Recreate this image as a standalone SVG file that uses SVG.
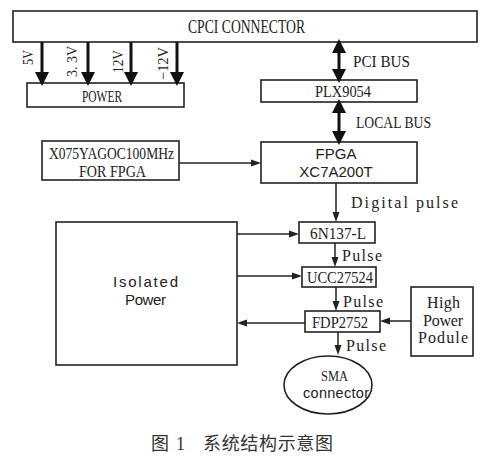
<svg xmlns="http://www.w3.org/2000/svg" width="488" height="458" viewBox="0 0 488 458">
<style>
.box{fill:#fff;stroke:#222;stroke-width:1.6}
.ser{font-family:"Liberation Serif","Times New Roman",serif;fill:#222}
.san{font-family:"Liberation Sans",Arial,sans-serif;fill:#222}
.thick{stroke:#111;stroke-width:3;fill:none}
.thin{stroke:#222;stroke-width:1.5;fill:none}
.cap{font-family:"Liberation Serif","Noto Sans CJK SC",serif;fill:#333;font-size:18px}
</style>
<defs>
<marker id="big" markerUnits="userSpaceOnUse" markerWidth="14" markerHeight="14" refX="0" refY="6" orient="auto-start-reverse" viewBox="0 0 12 12">
<path d="M0,0 L12,6 L0,12 z" fill="#111"/>
</marker>
<marker id="sm" markerUnits="userSpaceOnUse" markerWidth="10" markerHeight="8" refX="0" refY="3.5" orient="auto" viewBox="0 0 10 7">
<path d="M0,0 L10,3.5 L0,7 z" fill="#222"/>
</marker>
</defs>
<rect width="488" height="458" fill="#fff"/>

<g id="cpci">
<rect class="box" x="13" y="11" width="464" height="31"/>
<text class="ser" x="188" y="33" font-size="18" textLength="117" lengthAdjust="spacingAndGlyphs">CPCI CONNECTOR</text>
</g>

<g id="power">
<rect class="box" x="27" y="83" width="157" height="24"/>
<text class="ser" x="82" y="102" font-size="17.5" textLength="40" lengthAdjust="spacingAndGlyphs">POWER</text>
</g>

<g id="plx">
<rect class="box" x="261" y="80" width="156" height="22"/>
<text class="ser" x="315" y="97" font-size="17.5" textLength="56" lengthAdjust="spacingAndGlyphs">PLX9054</text>
</g>

<g id="osc">
<rect class="box" x="42" y="141" width="137" height="39"/>
<text class="ser" x="49" y="159" font-size="16" textLength="125" lengthAdjust="spacingAndGlyphs">X075YAGOC100MHz</text>
<text class="ser" x="79" y="177" font-size="16" textLength="67" lengthAdjust="spacingAndGlyphs">FOR FPGA</text>
</g>

<g id="fpga">
<rect class="box" x="261" y="142" width="156" height="41"/>
<text class="san" x="336" y="159" font-size="15" text-anchor="middle">FPGA</text>
<text class="san" x="336" y="177" font-size="15" text-anchor="middle">XC7A200T</text>
</g>

<g id="opto">
<rect class="box" x="299" y="222" width="76" height="21"/>
<text class="ser" x="310" y="239" font-size="17" textLength="56" lengthAdjust="spacingAndGlyphs">6N137-L</text>
</g>

<g id="isopower">
<rect class="box" x="56" y="222" width="181" height="143"/>
<text class="san" x="113" y="287" font-size="15" textLength="65" lengthAdjust="spacing">Isolated</text>
<text class="san" x="125" y="305" font-size="15" textLength="41" lengthAdjust="spacing">Power</text>
</g>

<g id="ucc">
<rect class="box" x="302" y="267" width="74" height="20"/>
<text class="ser" x="307" y="283" font-size="17" textLength="66" lengthAdjust="spacingAndGlyphs">UCC27524</text>
</g>

<g id="fdp">
<rect class="box" x="305" y="311" width="75" height="21"/>
<text class="ser" x="312" y="327.5" font-size="17" textLength="56" lengthAdjust="spacingAndGlyphs">FDP2752</text>
</g>

<g id="hpp">
<rect class="box" x="411" y="287" width="62" height="69"/>
<text class="ser" x="427" y="308" font-size="16" textLength="33" lengthAdjust="spacing">High</text>
<text class="ser" x="423" y="326" font-size="16" textLength="40" lengthAdjust="spacing">Power</text>
<text class="ser" x="418" y="343" font-size="16" textLength="50" lengthAdjust="spacing">Podule</text>
</g>

<g id="sma">
<ellipse class="box" cx="328" cy="385" rx="44" ry="29"/>
<text class="ser" x="321" y="381" font-size="15" textLength="27" lengthAdjust="spacingAndGlyphs">SMA</text>
<text class="san" x="303" y="398" font-size="14.5" textLength="66" lengthAdjust="spacing">connector</text>
</g>

<g id="connectors">
<line class="thick" x1="42" y1="42" x2="42" y2="72" marker-end="url(#big)"/>
<line class="thick" x1="88" y1="42" x2="88" y2="72" marker-end="url(#big)"/>
<line class="thick" x1="131" y1="42" x2="131" y2="72" marker-end="url(#big)"/>
<line class="thick" x1="177" y1="42" x2="177" y2="72" marker-end="url(#big)"/>
<line class="thick" x1="339" y1="53" x2="339" y2="69" marker-start="url(#big)" marker-end="url(#big)"/>
<line class="thick" x1="339" y1="113" x2="339" y2="131" marker-start="url(#big)" marker-end="url(#big)"/>
<line class="thin" x1="179" y1="163" x2="251" y2="163" marker-end="url(#sm)"/>
<line class="thin" x1="336" y1="183" x2="336" y2="212" marker-end="url(#sm)"/>
<line class="thin" x1="237" y1="234" x2="289" y2="234" marker-end="url(#sm)"/>
<line class="thin" x1="335" y1="243" x2="335" y2="257" marker-end="url(#sm)"/>
<line class="thin" x1="237" y1="276" x2="292" y2="276" marker-end="url(#sm)"/>
<line class="thin" x1="336" y1="287" x2="336" y2="301" marker-end="url(#sm)"/>
<line class="thin" x1="305" y1="323" x2="247" y2="323" marker-end="url(#sm)"/>
<line class="thin" x1="411" y1="321" x2="390" y2="321" marker-end="url(#sm)"/>
<line class="thin" x1="338" y1="332" x2="338" y2="345" marker-end="url(#sm)"/>
<text class="ser" font-size="15" transform="translate(33,65) rotate(-90)" textLength="15" lengthAdjust="spacingAndGlyphs">5V</text>
<text class="ser" font-size="15" transform="translate(77,77) rotate(-90)" textLength="31" lengthAdjust="spacingAndGlyphs">3. 3V</text>
<text class="ser" font-size="15" transform="translate(123,73) rotate(-90)" textLength="23" lengthAdjust="spacingAndGlyphs">12V</text>
<text class="ser" font-size="15" transform="translate(168,80) rotate(-90)" textLength="33" lengthAdjust="spacingAndGlyphs">−12V</text>
<text class="ser" x="353" y="67" font-size="17" textLength="57" lengthAdjust="spacingAndGlyphs">PCI BUS</text>
<text class="ser" x="356" y="128" font-size="17" textLength="75" lengthAdjust="spacingAndGlyphs">LOCAL BUS</text>
<text class="ser" x="351" y="208" font-size="16" textLength="107" lengthAdjust="spacing">Digital pulse</text>
<text class="ser" x="342" y="261" font-size="16" textLength="40" lengthAdjust="spacing">Pulse</text>
<text class="ser" x="343" y="307" font-size="16" textLength="40" lengthAdjust="spacing">Pulse</text>
<text class="ser" x="346" y="351" font-size="16" textLength="40" lengthAdjust="spacing">Pulse</text>
</g>

<g id="caption">
<text class="cap" x="151" y="450">图</text>
<text class="cap" x="176" y="450">1</text>
<text class="cap" x="203" y="450" textLength="130" lengthAdjust="spacing">系统结构示意图</text>
</g>
</svg>
